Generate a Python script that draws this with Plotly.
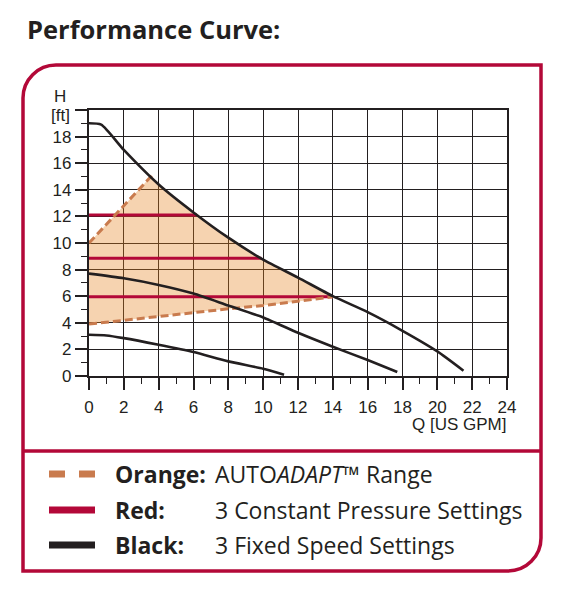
import plotly.graph_objects as go

# --- data ---
HIGH_Q = [0, 0.7, 2, 4, 6, 8, 10, 12, 14, 16, 18, 20, 21.5]
HIGH_H = [19.0, 18.9, 17.0, 14.4, 12.3, 10.4, 8.75, 7.4, 6.0, 4.8, 3.4, 1.85, 0.4]
MID_Q = [0, 2, 4, 6, 8, 10, 12, 14, 16, 17.7]
MID_H = [7.7, 7.35, 6.85, 6.2, 5.3, 4.4, 3.25, 2.2, 1.2, 0.3]
LOW_Q = [0, 1, 2, 4, 6, 8, 10, 11.2]
LOW_H = [3.1, 3.05, 2.85, 2.35, 1.8, 1.1, 0.55, 0.1]

AUTO_UPPER_Q = [0, 3.6]
AUTO_UPPER_H = [10.0, 15.05]
AUTO_LOWER_Q = [0, 2, 4, 6, 8, 10, 12, 14]
AUTO_LOWER_H = [3.9, 4.2, 4.5, 4.8, 5.05, 5.3, 5.6, 5.95]

CP_H = [12.1, 8.85, 5.95]
CP_QMAX = [6.2, 9.9, 14.0]

X_TICKS = list(range(0, 25, 2))
Y_TICKS = list(range(0, 21, 2))
Y_TICKTEXT = [str(v) for v in Y_TICKS[:-1]] + [""]

# --- colours ---
BLACK = "#231F20"
RED = "#B30838"
ORANGE = "#C97B4E"
FILL = "rgba(229,129,29,0.35)"

# page has an 8px body margin, so the figure is a bit smaller than the window
OFF = 8
W, H = 565 - OFF, 592 - OFF
L, R, T, B = 89, 507, 110, 376  # plot area in window pixels


def px(x):
    return (x - L) / (R - L)


def py(y):
    return (B - y) / (B - T)


fig = go.Figure()

# AUTOADAPT area: upper dashed edge, top curve between the dashed ends, lower edge back
between = [(q, h) for q, h in zip(HIGH_Q, HIGH_H) if AUTO_UPPER_Q[-1] < q < AUTO_LOWER_Q[-1]]
poly_q = AUTO_UPPER_Q + [p[0] for p in between] + AUTO_LOWER_Q[::-1]
poly_h = AUTO_UPPER_H + [p[1] for p in between] + AUTO_LOWER_H[::-1]
fig.add_trace(go.Scatter(x=poly_q, y=poly_h, fill="toself", fillcolor=FILL,
                         mode="none", hoverinfo="skip"))

for h, qmax in zip(CP_H, CP_QMAX):
    fig.add_trace(go.Scatter(x=[0, qmax], y=[h, h], mode="lines",
                             line=dict(color=RED, width=3)))

for q, h in [(AUTO_UPPER_Q, AUTO_UPPER_H), (AUTO_LOWER_Q, AUTO_LOWER_H)]:
    fig.add_trace(go.Scatter(x=q, y=h, mode="lines",
                             line=dict(color=ORANGE, width=3, dash="8px,4px")))

for q, h in [(HIGH_Q, HIGH_H), (MID_Q, MID_H), (LOW_Q, LOW_H)]:
    fig.add_trace(go.Scatter(x=q, y=h, mode="lines",
                             line=dict(color=BLACK, width=2.6, shape="spline", smoothing=0.6)))

axis_common = dict(
    showgrid=True, gridcolor=BLACK, gridwidth=1,
    showline=True, linecolor=BLACK, linewidth=2.2, mirror=True,
    zeroline=False, ticks="outside", ticklen=12, tickwidth=2, tickcolor=BLACK,
    tickfont=dict(family="Liberation Sans", size=17, color=BLACK),
    minor=dict(ticks="outside", ticklen=6, tickwidth=1, tickcolor=BLACK, dtick=1, showgrid=False),
)
fig.update_xaxes(range=[0, 24], tickvals=X_TICKS, ticklabelstandoff=2, **axis_common)
fig.update_yaxes(range=[0, 20], tickvals=Y_TICKS, ticktext=Y_TICKTEXT, **axis_common)

# frame around chart and legend
k = 0.552
r = 33
x0, x1, y0, y1 = 23, 541, 65, 571
frame = (f"M {px(x0)},{py(y0 + r)} "
         f"C {px(x0)},{py(y0 + r * (1 - k))} {px(x0 + r * (1 - k))},{py(y0)} {px(x0 + r)},{py(y0)} "
         f"L {px(x1)},{py(y0)} L {px(x1)},{py(y1 - r)} "
         f"C {px(x1)},{py(y1 - r * (1 - k))} {px(x1 - r * (1 - k))},{py(y1)} {px(x1 - r)},{py(y1)} "
         f"L {px(x0)},{py(y1)} Z")
shapes = [
    dict(type="path", path=frame, xref="paper", yref="paper", line=dict(color=RED, width=3.5)),
    dict(type="line", xref="paper", yref="paper", x0=px(x0), x1=px(x1), y0=py(451), y1=py(451),
         line=dict(color=RED, width=3.5)),
    # legend samples
    dict(type="line", xref="paper", yref="paper", x0=px(49), x1=px(65), y0=py(474), y1=py(474),
         line=dict(color=ORANGE, width=7)),
    dict(type="line", xref="paper", yref="paper", x0=px(79), x1=px(95), y0=py(474), y1=py(474),
         line=dict(color=ORANGE, width=7)),
    dict(type="line", xref="paper", yref="paper", x0=px(49), x1=px(95), y0=py(510), y1=py(510),
         line=dict(color=RED, width=7)),
    dict(type="line", xref="paper", yref="paper", x0=px(49), x1=px(95), y0=py(545), y1=py(545),
         line=dict(color=BLACK, width=7)),
]

txt = dict(xref="paper", yref="paper", showarrow=False, yanchor="middle")
legend_font = dict(family="Open Sans", size=23, color=BLACK)
axis_font = dict(family="Liberation Sans", size=17, color=BLACK)
annotations = [
    dict(text="<b>Performance Curve:</b>", x=px(25), y=py(29), xanchor="left",
         font=dict(family="Open Sans", size=25.5, color=BLACK), **txt),
    dict(text="H", x=px(60), y=py(96), xanchor="center", font=axis_font, **txt),
    dict(text="[ft]", x=px(60), y=py(115), xanchor="center", font=axis_font, **txt),
    dict(text="Q [US GPM]", x=px(508), y=py(424), xanchor="right", font=axis_font, **txt),
    dict(text="<b>Orange:</b>", x=px(113), y=py(474), xanchor="left", font=legend_font, **txt),
    dict(text="<b>Red:</b>", x=px(113), y=py(510), xanchor="left", font=legend_font, **txt),
    dict(text="<b>Black:</b>", x=px(113), y=py(545), xanchor="left", font=legend_font, **txt),
    dict(text="AUTO<i>ADAPT</i>™ Range", x=px(213), y=py(474), xanchor="left", font=legend_font, **txt),
    dict(text="3 Constant Pressure Settings", x=px(213), y=py(510), xanchor="left", font=legend_font, **txt),
    dict(text="3 Fixed Speed Settings", x=px(213), y=py(545), xanchor="left", font=legend_font, **txt),
]

fig.update_layout(
    width=W, height=H, autosize=False,
    margin=dict(l=L - OFF, r=W - (R - OFF), t=T - OFF, b=H - (B - OFF), pad=0),
    paper_bgcolor="white", plot_bgcolor="white",
    showlegend=False, shapes=shapes, annotations=annotations,
)

fig.write_html("out.html")
